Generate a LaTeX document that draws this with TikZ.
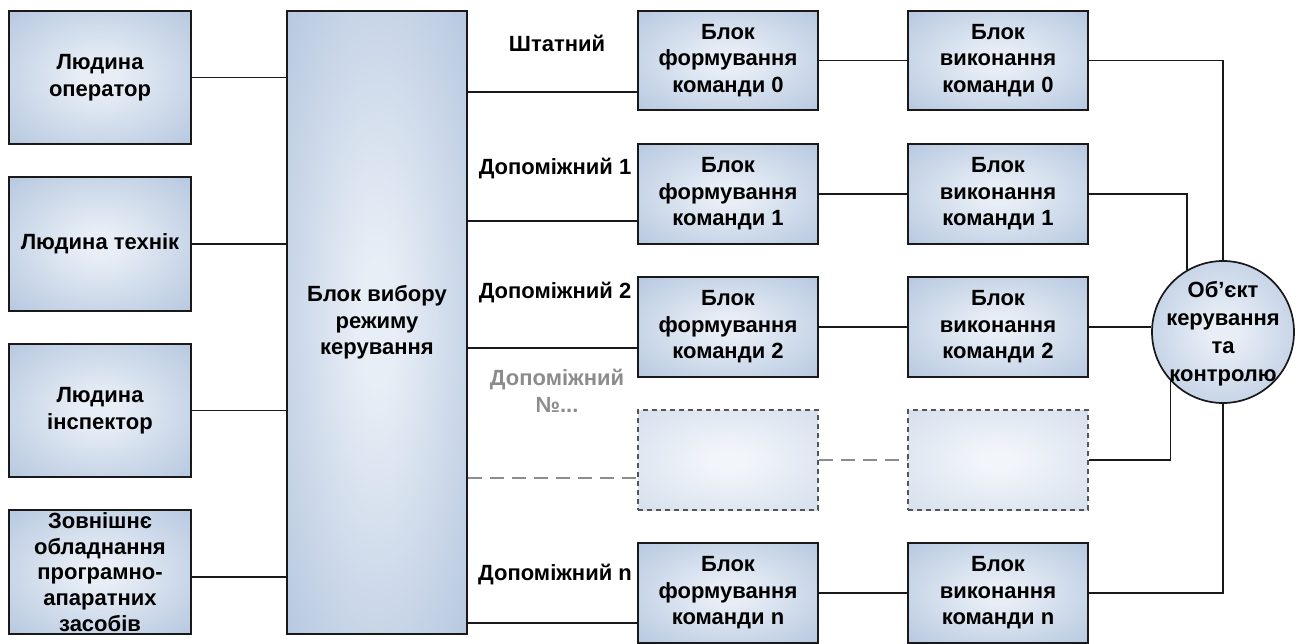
\documentclass[tikz,border=0pt]{standalone}
\usepackage{fontspec}
\setmainfont{Liberation Sans}
\usetikzlibrary{calc}
\definecolor{boxin}{RGB}{232,238,246}
\definecolor{boxout}{RGB}{172,192,219}
\definecolor{boxinL}{RGB}{242,245,250}
\definecolor{boxoutL}{RGB}{208,219,234}
\definecolor{edgegray}{RGB}{85,85,85}
\definecolor{linegray}{RGB}{140,140,140}
\definecolor{labgray}{RGB}{140,140,140}
\pgfdeclareradialshading{boxshade}{\pgfpoint{0bp}{0bp}}{color(0bp)=(boxin);color(5bp)=(boxin);color(42bp)=(boxout);color(75bp)=(boxout)}
\pgfdeclareradialshading{boxshadeL}{\pgfpoint{0bp}{0bp}}{color(0bp)=(boxinL);color(5bp)=(boxinL);color(42bp)=(boxoutL);color(75bp)=(boxoutL)}
\tikzset{
  txt/.style={font=\bfseries\fontsize{22}{26.5}\selectfont, align=center},
  blk/.style={txt, draw=black!90, line width=1.7pt, shade, shading=boxshade, inner sep=0pt},
  leftbox/.style={blk, minimum width=182pt},
  colbox/.style={blk, minimum width=180pt, minimum height=100pt},
  ghostbox/.style={draw=edgegray, line width=1.4pt, dash pattern=on 5pt off 4pt, shade, shading=boxshadeL, minimum width=180pt, minimum height=100pt, inner sep=0pt},
  conn/.style={line width=1.6pt, black!90},
  ghostconn/.style={line width=1.6pt, linegray, dash pattern=on 14pt off 8pt},
  lab/.style={txt, anchor=base, inner sep=0pt},
}
\begin{document}
\begin{tikzpicture}[x=1pt,y=-1pt]
\useasboundingbox (0,0) rectangle (1301,644);
% left column
\node[leftbox, minimum height=133pt] (op) at (100,77.5) {Людина\\оператор};
\node[leftbox, minimum height=134pt] (tech) at (100,244) {Людина технік};
\node[leftbox, minimum height=133pt] (insp) at (100,410.5) {Людина\\інспектор};
\node[leftbox, minimum height=124pt, font=\bfseries\fontsize{22}{25.8}\selectfont] (ext) at (100,572) {Зовнішнє\\обладнання\\програмно-\\апаратних\\засобів};
% central
\node[blk, minimum width=180pt, minimum height=623pt] (mode) at (377,322.5) {Блок вибору\\режиму\\керування};
% formation column
\node[colbox, minimum height=99pt] (f0) at (728,60.5) {Блок\\формування\\команди 0};
\node[colbox] (f1) at (728,194) {Блок\\формування\\команди 1};
\node[colbox] (f2) at (728,327) {Блок\\формування\\команди 2};
\node[ghostbox] (fd) at (728,460) {};
\node[colbox] (fn) at (728,593) {Блок\\формування\\команди n};
% execution column
\node[colbox, minimum height=99pt] (e0) at (998,60.5) {Блок\\виконання\\команди 0};
\node[colbox] (e1) at (998,194) {Блок\\виконання\\команди 1};
\node[colbox] (e2) at (998,327) {Блок\\виконання\\команди 2};
\node[ghostbox] (ed) at (998,460) {};
\node[colbox] (en) at (998,593) {Блок\\виконання\\команди n};
% object
\node[blk, circle, minimum size=142pt] (obj) at (1223,332) {};
\node[txt, font=\bfseries\fontsize{22}{28}\selectfont, inner sep=0pt] (objtxt) at ([yshift=-2pt]obj.center) {Об’єкт\\керування\\та\\контролю};
% labels
\node[lab] (l0) at (557,52) {Штатний};
\node[lab] (l1) at (555,175) {Допоміжний 1};
\node[lab] (l2) at (555,299) {Допоміжний 2};
\node[lab, text=labgray] (ld) at (557,412) {Допоміжний\\№...};
\node[lab] (ln) at (555,580) {Допоміжний n};
% left connectors
\draw[conn] (op.east) -- (op.east -| mode.west);
\draw[conn] (tech.east) -- (tech.east -| mode.west);
\draw[conn] (insp.east) -- (insp.east -| mode.west);
\draw[conn] ([yshift=-5pt]ext.east) -- ([yshift=-5pt]ext.east -| mode.west);
% mode to formation
\draw[conn] ([yshift=-31.5pt]f0.west -| mode.east) -- ([yshift=-31.5pt]f0.west);
\draw[conn] ([yshift=-27pt]f1.west -| mode.east) -- ([yshift=-27pt]f1.west);
\draw[conn] ([yshift=-21pt]f2.west -| mode.east) -- ([yshift=-21pt]f2.west);
\draw[ghostconn] ([yshift=-18pt]fd.west -| mode.east) -- ([yshift=-18pt]fd.west);
\draw[conn] ([yshift=-30pt]fn.west -| mode.east) -- ([yshift=-30pt]fn.west);
% formation to execution
\draw[conn] (f0.east) -- (e0.west);
\draw[conn] (f1.east) -- (e1.west);
\draw[conn] (f2.east) -- (e2.west);
\draw[ghostconn] (fd.east) -- (ed.west);
\draw[conn] (fn.east) -- (en.west);
% execution to object
\draw[conn] (e0.east) -| (obj.north);
\draw[conn] (e1.east) -| (obj.120);
\draw[conn] (e2.east) -- (e2.east -| obj.west);
\draw[conn] (ed.east) -| (obj.223);
\draw[conn] (en.east) -| (obj.south);
\end{tikzpicture}
\end{document}
